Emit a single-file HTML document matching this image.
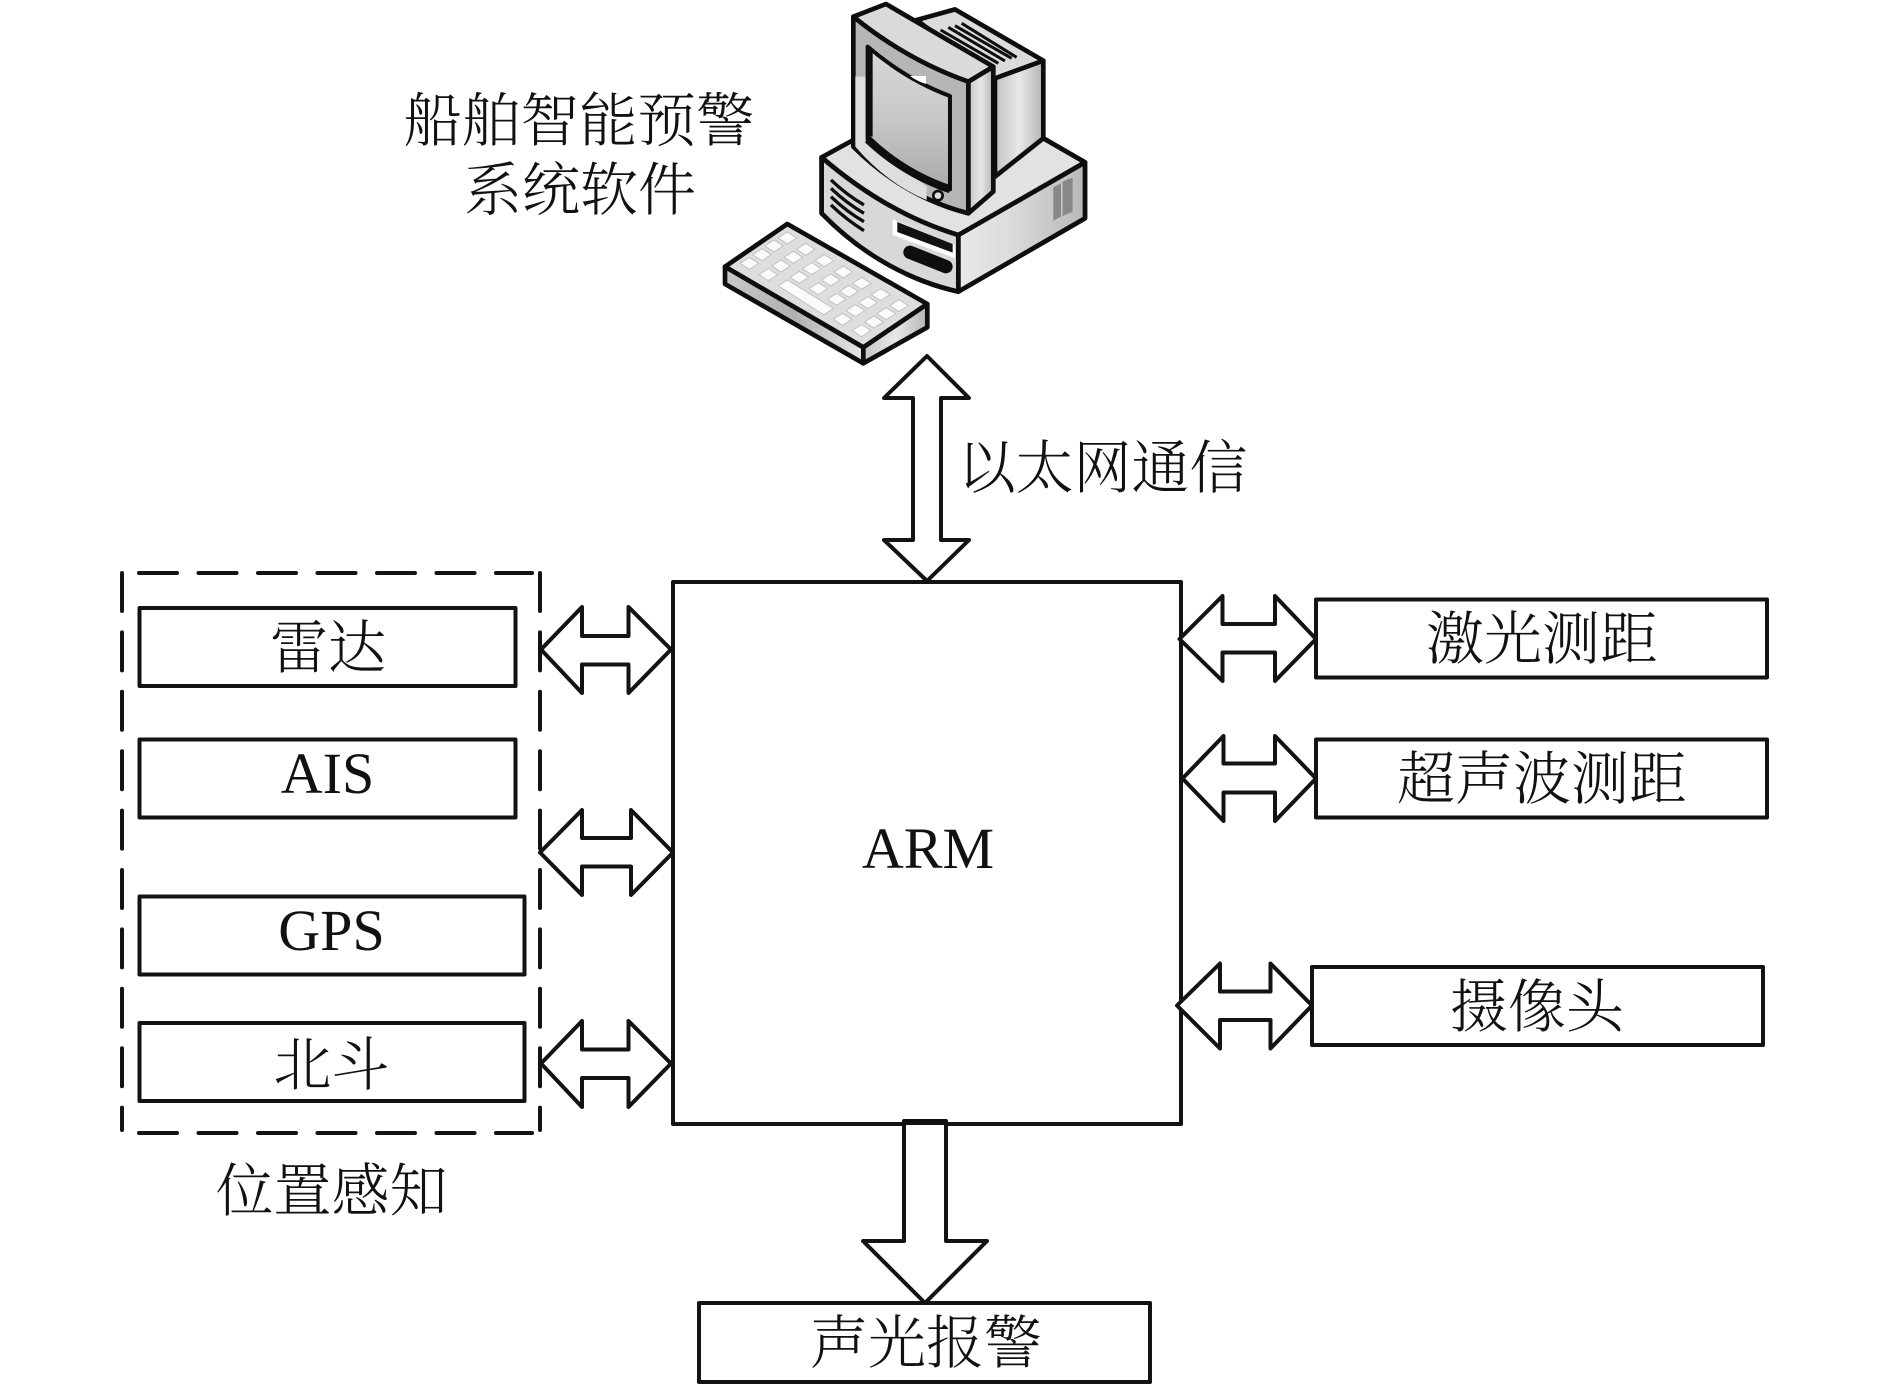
<!DOCTYPE html>
<html><head><meta charset="utf-8"><style>
html,body{margin:0;padding:0;background:#fff}
svg{display:block}
text{font-family:"Liberation Serif","Noto Serif CJK SC",serif;font-size:58px;fill:#111;text-anchor:middle;font-weight:300}
.b{fill:#fff;stroke:#131313;stroke-width:4;stroke-linejoin:round}
</style></head><body>
<svg width="1890" height="1384" viewBox="0 0 1890 1384" xmlns="http://www.w3.org/2000/svg">
<defs>
<linearGradient id="g1" x1="0" x2="1" y1="0" y2="0"><stop offset="0" stop-color="#e8e8e8"/><stop offset=".4" stop-color="#dcdcdc"/><stop offset="1" stop-color="#b8b8b8"/></linearGradient>
<linearGradient id="g2" x1="0" x2="1" y1="0" y2="0"><stop offset="0" stop-color="#c8c8c8"/><stop offset=".5" stop-color="#b0b0b0"/><stop offset="1" stop-color="#e8e8e8"/></linearGradient>
<linearGradient id="g3" x1="0" x2="0" y1="0" y2="1"><stop offset="0" stop-color="#d8d8d8"/><stop offset=".5" stop-color="#c8c8c8"/><stop offset="1" stop-color="#aaa"/></linearGradient>
<linearGradient id="g4" x1="0" x2="1" y1="0" y2="0"><stop offset="0" stop-color="#c4c4c4"/><stop offset=".5" stop-color="#e8e8e8"/><stop offset="1" stop-color="#b4b4b4"/></linearGradient>
</defs>
<g transform="translate(700 0) scale(.3333)" stroke="#0e0e0e" stroke-linejoin="round" stroke-width="14">
<!-- base -->
<path d="M365 472 L1030 415 L1155 487 L1155 655 L775 875 Q560 830 365 640 Z" fill="#dcdcdc"/>
<path d="M775 705 L1155 487 L1155 655 L775 875 Z" fill="url(#g1)"/>
<path d="M365 472 Q560 640 775 705 L775 875 Q540 820 365 640 Z" fill="#d8d8d8"/>
<path d="M365 472 L460 420 L1030 415 L1155 487 L775 705 Q560 640 365 472 Z" fill="#e2e2e2"/>
<g fill="none" stroke-width="10"><path d="M393 540 Q440 585 492 615"/><path d="M393 565 Q440 610 492 640"/><path d="M393 590 Q440 635 492 665"/><path d="M393 615 Q440 660 492 692"/></g>
<path d="M578 658 L765 735 L765 775 L578 705 Z" fill="#fff" stroke="none"/>
<path d="M592 666 L758 732 L758 758 L592 696 Z" fill="#111" stroke="none"/>
<path d="M630 757 L738 800" stroke-width="40" stroke-linecap="round"/>
<path d="M1060 562 L1083 550 L1083 650 L1060 662 Z M1088 545 L1118 533 L1118 635 L1088 648 Z" fill="#888" stroke="none"/>
<!-- rear monitor -->
<path d="M650 60 L765 28 L1030 182 L885 240 Z" fill="#dcdcdc"/>
<path d="M885 235 L1030 182 L1030 415 L885 530 Z" fill="url(#g4)"/>
<g stroke-width="9" fill="none"><path d="M722 90 L895 190"/><path d="M745 82 L915 183"/><path d="M765 77 L935 175"/><path d="M785 70 L950 172"/></g>
<!-- monitor front -->
<path d="M805 245 L880 200 L880 575 L805 640 Z" fill="url(#g4)"/>
<path d="M460 50 L558 12 L880 200 L805 245 Q620 180 460 50 Z" fill="#dadada"/>
<path d="M460 50 Q620 180 805 245 L805 640 Q610 590 460 440 Z" fill="#b6b6b6"/>
<path d="M466 230 L496 230 L496 420 L680 560 L680 600 Q560 550 466 440 Z" fill="#dedede" stroke="none"/>
<path d="M503 140 Q620 240 750 288 L750 568 Q610 520 503 418 Z" fill="url(#g3)" stroke-width="12"/>
<path d="M503 418 Q610 520 750 568" fill="none" stroke-width="24"/>
<path d="M508 150 L508 410" fill="none" stroke-width="20"/>
<path d="M630 228 L678 228 L678 252 Q650 243 630 228 Z" fill="#fff" stroke="none"/>
<circle cx="714" cy="587" r="14" fill="#ddd" stroke-width="8"/>
<!-- keyboard -->
<path d="M75 800 L490 1042 L490 1090 L75 852 Z" fill="url(#g2)"/>
<path d="M490 1042 L682 912 L682 982 L490 1090 Z" fill="url(#g4)"/>
<path d="M75 800 L262 672 L682 912 L490 1042 Z" fill="#dedede"/>
<g fill="#fbfbfb" stroke="#c2c2c2" stroke-width="3">
<path d="M234 714 L262 696 L290 714 L262 732 Z"/><path d="M194 738 L222 720 L250 738 L222 756 Z"/><path d="M158 764 L186 746 L214 764 L186 782 Z"/><path d="M120 790 L148 772 L176 790 L148 808 Z"/>
<path d="M289 748 L317 730 L345 748 L317 766 Z"/><path d="M252 772 L280 754 L308 772 L280 790 Z"/><path d="M215 798 L243 780 L271 798 L243 816 Z"/><path d="M177 824 L205 806 L233 824 L205 842 Z"/>
<path d="M345 782 L373 764 L401 782 L373 800 Z"/><path d="M307 806 L335 788 L363 806 L335 824 Z"/><path d="M270 832 L298 814 L326 832 L298 850 Z"/>
<path d="M402 816 L430 798 L458 816 L430 834 Z"/><path d="M364 840 L392 822 L420 840 L392 858 Z"/><path d="M327 866 L355 848 L383 866 L355 884 Z"/>
<path d="M457 850 L485 832 L513 850 L485 868 Z"/><path d="M419 874 L447 856 L475 874 L447 892 Z"/><path d="M382 898 L410 880 L438 898 L410 916 Z"/>
<path d="M514 884 L542 866 L570 884 L542 902 Z"/><path d="M476 908 L504 890 L532 908 L504 926 Z"/><path d="M438 932 L466 914 L494 932 L466 950 Z"/><path d="M400 958 L428 940 L456 958 L428 976 Z"/>
<path d="M569 917 L597 899 L625 917 L597 935 Z"/><path d="M531 941 L559 923 L587 941 L559 959 Z"/><path d="M494 966 L522 948 L550 966 L522 984 Z"/><path d="M457 992 L485 974 L513 992 L485 1010 Z"/>
<path d="M235 858 L262 840 L400 925 L372 945 Z"/>
</g>
</g>

<!-- dashed group -->
<g fill="none" stroke="#131313" stroke-width="4" stroke-linecap="round">
<path d="M139 573 H532" stroke-dasharray="38 21.5"/>
<path d="M139 1133 H532" stroke-dasharray="38 21.5"/>
<path d="M122 573 V1130" stroke-dasharray="38 21.4"/>
<path d="M540 573 V1130" stroke-dasharray="38 21.4"/>
</g>

<!-- boxes -->
<rect class="b" x="673" y="582" width="508" height="542"/>
<rect class="b" x="139.5" y="608" width="376" height="78"/>
<rect class="b" x="139.5" y="739.5" width="376" height="78"/>
<rect class="b" x="139.5" y="896.5" width="385" height="78"/>
<rect class="b" x="139.5" y="1023" width="385" height="78"/>
<rect class="b" x="1316" y="599.5" width="451" height="78"/>
<rect class="b" x="1316" y="739.5" width="451" height="78"/>
<rect class="b" x="1312" y="967" width="451" height="78"/>
<rect class="b" x="699" y="1303" width="451" height="79"/>

<!-- arrows -->
<path class="b" d="M927 356 L969 398 H941 V540 H969 L927 581 L884 540 H913 V398 H884 Z"/>
<path class="b" d="M904 1121 H946 V1241 H987 L925 1303 L863 1241 H904 Z"/>
<path d="M904 1122 H946" stroke="#111" stroke-width="6" fill="none"/>
<path class="b" d="M541 649.5 L582 607 V636 H628.5 V607 L671 649.5 L628.5 693 V664.5 H582 V693 Z"/>
<path class="b" d="M540 852.5 L582 810 V838 H631 V810 L673 852.5 L631 895 V866.5 H582 V895 Z"/>
<path class="b" d="M541 1063.5 L582 1021 V1049.5 H628.5 V1021 L671 1063.5 L628.5 1107 V1078 H582 V1107 Z"/>
<path class="b" d="M1179.5 639 L1222.5 596 V624 H1275 V596 L1316 639 L1275 681 V652.5 H1222.5 V681 Z"/>
<path class="b" d="M1182.5 778.5 L1223.5 736 V763.5 H1275 V736 L1316 778.5 L1275 821 V792.5 H1223.5 V821 Z"/>
<path class="b" d="M1177 1005.5 L1220 963.5 V991.5 H1270.5 V963.5 L1312 1005.5 L1270.5 1048.5 V1020 H1220 V1048.5 Z"/>

<!-- labels -->
<text x="579" y="141" style="font-size:58.5px">船舶智能预警</text>
<text x="580" y="210">系统软件</text>
<text x="1102.5" y="488">以太网通信</text>
<text x="328" y="668">雷达</text>
<text x="327.5" y="793">AIS</text>
<text x="331.5" y="950">GPS</text>
<text x="331.5" y="1085">北斗</text>
<text x="331.5" y="1211">位置感知</text>
<text x="928" y="868" style="font-size:58px">ARM</text>
<text x="1542" y="659">激光测距</text>
<text x="1542" y="799">超声波测距</text>
<text x="1537" y="1027">摄像头</text>
<text x="926" y="1363">声光报警</text>
</svg>
</body></html>
